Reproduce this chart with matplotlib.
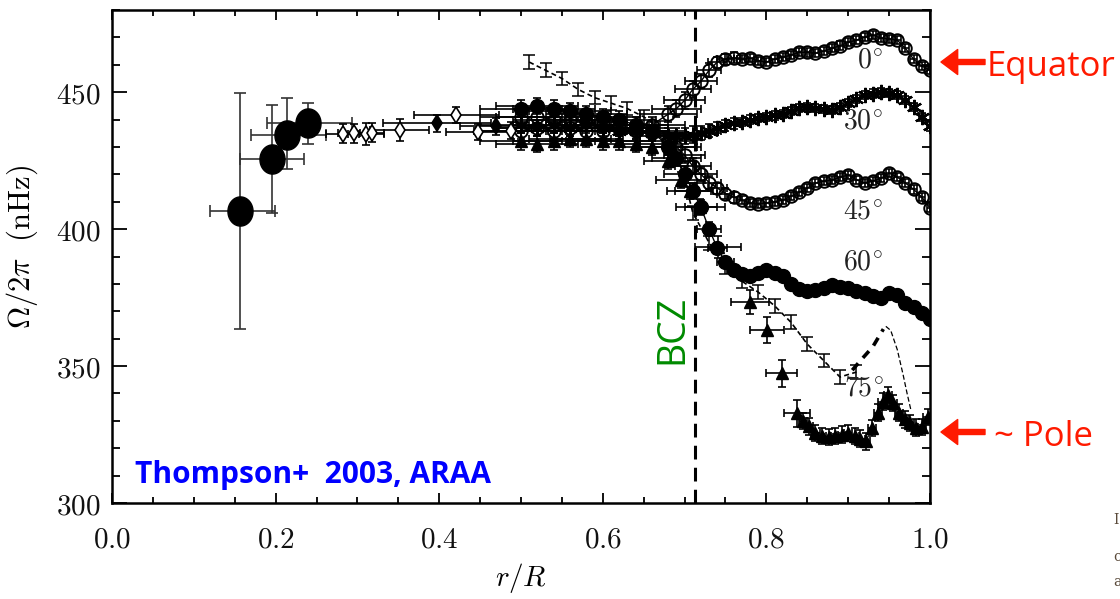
import numpy as np
import matplotlib
matplotlib.use('Agg')
import matplotlib.pyplot as plt
from matplotlib.path import Path
from matplotlib.ticker import MultipleLocator, FuncFormatter

plt.rcParams['mathtext.fontset'] = 'cm'
plt.rcParams['font.family'] = ['DejaVu Serif']

# ---------------- data ----------------
# deep-core points (large filled ellipses)
core_r = [0.156, 0.196, 0.214, 0.239]
core_om = [406.6, 425.5, 434.5, 438.7]
core_r_lo = [0.120, 0.156, 0.170, 0.189]
core_r_hi = [0.199, 0.235, 0.262, 0.293]
core_om_lo = [363.5, 405.8, 422.0, 431.0]
core_om_hi = [449.6, 445.3, 447.8, 446.0]

# radiative-interior points (small symbols)
rad_r = [0.282, 0.296, 0.310, 0.318, 0.352, 0.397, 0.421, 0.448, 0.470, 0.488]
rad_om = [434.9, 435.0, 434.6, 435.2, 436.1, 438.6, 441.6, 435.5, 437.5, 436.0]
rad_dr = [0.020, 0.020, 0.022, 0.015, 0.036, 0.066, 0.052, 0.040, 0.045, 0.045]
rad_dom = [3.5, 3.5, 4.0, 3.5, 4.0, 3.0, 3.0, 3.0, 3.0, 3.0]
rad_filled = [False, False, False, False, False, True, False, False, True, False]

# latitude cuts (shared radius grid)
lat_r = [0.50, 0.52, 0.54, 0.56, 0.58, 0.60, 0.62, 0.64, 0.66, 0.68,
         0.69, 0.70, 0.71, 0.72, 0.73, 0.74, 0.75, 0.76, 0.77, 0.78,
         0.79, 0.80, 0.81, 0.82, 0.83, 0.84, 0.85, 0.86, 0.87, 0.88,
         0.89, 0.90, 0.91, 0.92, 0.93, 0.94, 0.95, 0.96, 0.97, 0.98,
         0.99, 1.00]
lat00_om = [436, 437, 436, 437, 436, 436, 437, 437, 438, 442,
            444, 447, 451, 454, 458, 461, 462, 462.5, 462, 462.4,
            461.5, 461, 462, 462.8, 463.5, 464.6, 464.5, 464.2, 465, 466,
            467, 468.2, 469, 470, 470.8, 469.7, 469.5, 469, 466, 462,
            459.5, 458]
lat30_om = [438, 437, 438, 437, 438, 437, 436, 436, 435, 434,
            434, 434, 434.5, 435, 436, 437, 438, 438.7, 439, 440,
            440.5, 440.9, 441.5, 442, 443, 444.2, 444.5, 444.2, 443.8, 443.4,
            444.5, 446, 447.5, 448.9, 449.5, 450, 449.8, 448.9, 447, 444.5,
            441, 437.5]
lat45_om = [441, 441, 440, 440, 439, 438, 437, 436, 435, 432,
            430, 427, 423, 420, 417, 415, 413, 411.7, 410.5, 409.5,
            409.3, 409.5, 410, 410.6, 412, 413.5, 415, 416.8, 417.5, 417.9,
            419, 419.7, 418, 416.8, 417.5, 418.6, 420.4, 419, 416.8, 414.5,
            411.7, 407.7]
lat60_om = [444, 445, 444, 443, 442, 441, 440, 438, 436, 430,
            426, 420, 414, 408, 400, 393, 388, 385, 383.5, 383,
            384, 385, 384, 383, 380, 378, 377.5, 377.7, 378.5, 379.6,
            379, 378.5, 377.5, 376.6, 375.5, 374.8, 376.5, 376, 373, 371.5,
            369.5, 367]
lat_dr = [0.050, 0.050, 0.050, 0.050, 0.050, 0.045, 0.045, 0.040, 0.040, 0.035,
          0.030, 0.025, 0.022, 0.020, 0.015, 0.012, 0.010, 0.008, 0.006, 0.005,
          0.004, 0.004, 0.004, 0.004, 0.004, 0.004, 0.004, 0.004, 0.004, 0.004,
          0.004, 0.004, 0.004, 0.004, 0.004, 0.004, 0.004, 0.004, 0.004, 0.004,
          0.004, 0.004]
lat_dom = [3.0, 3.0, 3.0, 3.0, 3.0, 3.0, 3.0, 3.0, 3.0, 3.0,
           3.0, 3.0, 3.0, 2.5, 2.5, 2.0, 2.0, 2.0, 1.5, 1.5,
           1.5, 1.5, 1.5, 1.5, 1.5, 1.5, 1.5, 1.5, 1.5, 1.5,
           1.5, 1.5, 1.5, 1.5, 1.5, 1.5, 1.5, 1.5, 1.5, 1.5,
           1.5, 1.5]

# 75 degree cut (dashed, zig-zag error bars)
l75_r = [0.51, 0.53, 0.55, 0.57, 0.59, 0.61, 0.63, 0.65, 0.67, 0.69, 0.70,
         0.71, 0.73, 0.75, 0.77, 0.79, 0.81, 0.83, 0.85, 0.87, 0.89, 0.91]
l75_om = [461, 458, 455, 451, 448, 446, 444, 441, 437, 428, 418,
          406, 395, 386, 381, 377, 372, 366, 358, 352, 346, 347.8]
l75_dom = [2.5, 2.5, 2.5, 2.5, 2.5, 2.5, 2.5, 2.5, 2.5, 2.5, 2.5,
           2.5, 2.5, 2.5, 2.5, 2.5, 2.5, 2.5, 2.5, 2.5, 2.5, 2.5]
l75_ext_r = [0.905, 0.915, 0.930, 0.943]
l75_ext_om = [348.5, 352.0, 357.0, 363.5]
l75_tail_r = [0.946, 0.952, 0.960, 0.967, 0.972, 0.977]
l75_tail_om = [364.5, 363.0, 356.0, 347.0, 340.0, 333.5]

# near-polar points (filled triangles)
pole_r = [0.50, 0.52, 0.54, 0.56, 0.58, 0.60, 0.62, 0.64, 0.66, 0.68,
          0.695, 0.707, 0.719, 0.741, 0.780, 0.801, 0.819, 0.837, 0.845, 0.852,
          0.860, 0.868, 0.876, 0.884, 0.892, 0.900, 0.908, 0.915, 0.922, 0.929,
          0.936, 0.942, 0.949, 0.955, 0.962, 0.969, 0.976, 0.983, 0.990, 0.997]
pole_om = [432, 431, 432, 433, 433, 432, 432, 431, 430, 425,
           418, 414, 408, 393.4, 373.4, 363.1, 347.4, 332.8, 330.0, 328.0,
           325.5, 324.5, 324.0, 324.5, 325.0, 325.5, 324.5, 323.5, 322.5, 327.4,
           333.0, 337.0, 339.4, 336.5, 333.0, 330.5, 329.2, 327.5, 327.7, 331.4]
pole_dr = [0.050, 0.050, 0.050, 0.050, 0.045, 0.045, 0.040, 0.040, 0.035, 0.030,
           0.030, 0.028, 0.030, 0.028, 0.023, 0.021, 0.019, 0.016, 0.005, 0.005,
           0.005, 0.005, 0.005, 0.005, 0.005, 0.005, 0.005, 0.005, 0.005, 0.005,
           0.005, 0.005, 0.005, 0.005, 0.005, 0.005, 0.005, 0.005, 0.005, 0.005]
pole_dom = [3.0, 3.0, 3.0, 3.0, 3.0, 3.0, 3.0, 3.0, 3.0, 3.0,
            3.0, 3.0, 3.0, 4.0, 4.3, 4.7, 4.9, 4.9, 3.0, 3.0,
            3.0, 3.0, 3.0, 3.0, 3.0, 3.0, 3.0, 3.0, 3.0, 3.0,
            3.0, 3.0, 3.0, 3.0, 3.0, 3.0, 3.0, 3.0, 3.0, 3.0]

lat_labels = [r'$0^{\circ}$', r'$30^{\circ}$', r'$45^{\circ}$', r'$60^{\circ}$', r'$75^{\circ}$']
lat_label_r = [0.927, 0.918, 0.918, 0.918, 0.919]
lat_label_om = [461.7, 439.4, 406.6, 388.0, 342.0]

bcz_r = 0.713
x_ticks = [0.0, 0.2, 0.4, 0.6, 0.8, 1.0]
y_ticks = [300, 350, 400, 450]

# ---------------- figure ----------------
W, H = 1120, 599
fig = plt.figure(figsize=(W / 100, H / 100), dpi=100)
ax = fig.add_axes([112 / W, 1 - 503 / H, 818 / W, 493 / H])
ax.set_xlim(0.0, 1.0)
ax.set_ylim(300, 480)

k = 'black'
eb_kw = dict(ecolor=k, elinewidth=1.2, capsize=3, capthick=1.2)

# core ellipses
th = np.linspace(0, 2 * np.pi, 64)
ellipse = Path(np.column_stack([0.86 * np.cos(th), np.sin(th)]), closed=True)
core_xerr = [np.array(core_r) - np.array(core_r_lo), np.array(core_r_hi) - np.array(core_r)]
core_yerr = [np.array(core_om) - np.array(core_om_lo), np.array(core_om_hi) - np.array(core_om)]
ax.errorbar(core_r, core_om, xerr=core_xerr, yerr=core_yerr, fmt='none',
            ecolor='#333333', elinewidth=1.2, capsize=4, capthick=1.2, zorder=3)
ax.plot(core_r, core_om, ls='none', marker=ellipse, ms=21, color=k, zorder=4)

# radiative-interior points
for r, om, dr, dom, f in zip(rad_r, rad_om, rad_dr, rad_dom, rad_filled):
    ax.errorbar([r], [om], xerr=[dr], yerr=[dom], fmt='d', ms=8,
                mfc=k if f else 'white', mec=k, mew=1.2, zorder=3, **eb_kw)

# latitude cuts
ax.errorbar(lat_r, lat00_om, xerr=lat_dr, yerr=lat_dom, fmt='none', zorder=3, **eb_kw)
ax.plot(lat_r, lat00_om, marker='o', ms=9, mfc='none', mec=k, mew=1.4,
        color=k, ls='-', lw=1.0, zorder=3)
ax.errorbar(lat_r, lat30_om, xerr=lat_dr, yerr=lat_dom, fmt='none', zorder=3, **eb_kw)
ax.plot(lat_r, lat30_om, marker=(6, 2, 0), ms=11, mec=k, mew=1.6,
        color=k, ls='-', lw=1.0, zorder=3)
ax.errorbar(lat_r, lat45_om, xerr=lat_dr, yerr=lat_dom, fmt='none', zorder=3, **eb_kw)
ax.plot(lat_r, lat45_om, marker='o', ms=9, mfc='none', mec=k, mew=1.4,
        color=k, ls='-', lw=1.0, zorder=3)
ax.errorbar(lat_r, lat60_om, xerr=lat_dr, yerr=lat_dom, fmt='none', zorder=3, **eb_kw)
ax.plot(lat_r, lat60_om, marker='o', ms=10, mfc=k, mec=k,
        color=k, ls='-', lw=1.0, zorder=3)

# 75 degree dashed curve
ax.errorbar(l75_r, l75_om, yerr=l75_dom, fmt='none', ecolor=k, elinewidth=1.1,
            capsize=4, capthick=1.1, zorder=3)
ax.plot(l75_r, l75_om, color=k, ls=(0, (3, 2)), lw=1.2, zorder=3)
ax.plot(l75_ext_r, l75_ext_om, color=k, ls=(0, (2.5, 2)), lw=2.6, zorder=3)
ax.plot(l75_tail_r, l75_tail_om, color=k, ls=(0, (4, 2)), lw=0.9, zorder=3)

# polar triangles
ax.errorbar(pole_r, pole_om, xerr=pole_dr, yerr=pole_dom, fmt='^', ms=9,
            mfc=k, mec=k, color=k, ls='none', zorder=3, **eb_kw)

# latitude labels
for t, r, om in zip(lat_labels, lat_label_r, lat_label_om):
    ax.text(r, om, t, fontsize=20, ha='center', va='center', color='#222222', zorder=5)

# base of convection zone
ax.axvline(bcz_r, color=k, lw=2.2, ls=(0, (4.5, 2.7)), zorder=2)
ax.text(0.6846, 363.5, 'BCZ', rotation=90, ha='center', va='center',
        fontsize=27, color='#008A00', family=['Open Sans', 'DejaVu Sans'])
ax.text(0.028, 307.3, 'Thompson+  2003, ARAA', ha='left', va='baseline',
        fontsize=21.5, fontweight='bold', color='#0000FF',
        family=['Open Sans', 'DejaVu Sans'])

# axes styling
ax.set_xticks(x_ticks)
ax.xaxis.set_major_formatter(FuncFormatter(lambda v, p: r'$%.1f$' % v))
ax.set_yticks(y_ticks)
ax.yaxis.set_major_formatter(FuncFormatter(lambda v, p: r'$%d$' % v))
ax.xaxis.set_minor_locator(MultipleLocator(0.05))
ax.yaxis.set_minor_locator(MultipleLocator(10))
ax.tick_params(which='both', direction='in', top=True, right=True, width=1.4,
               labelsize=21, colors='#111111')
ax.tick_params(axis='y', which='major', length=11, pad=8)
ax.tick_params(axis='y', which='minor', length=6)
ax.tick_params(axis='x', which='major', length=7, pad=16)
ax.tick_params(axis='x', which='minor', length=4.5)
for s in ax.spines.values():
    s.set_linewidth(1.8)
ax.set_xlabel(r'$r/R$', fontsize=21)
ax.set_ylabel(r'$\Omega/2\pi\ \ (\mathrm{nHz})$', fontsize=22)
ax.xaxis.set_label_coords(0.5, -0.118)
ax.yaxis.set_label_coords(-0.088, 0.52)

# outside annotations
red = '#FF1A00'
for ypx in (62, 432):
    ax.annotate('', xy=(941 / W, 1 - ypx / H), xytext=(985 / W, 1 - ypx / H),
                xycoords='figure fraction', textcoords='figure fraction',
                arrowprops=dict(facecolor=red, edgecolor=red, width=3.6,
                                headwidth=18, headlength=12, shrink=0))
fig.text(987 / W, 1 - 76 / H, 'Equator', fontsize=25, color=red, ha='left',
         va='baseline', family=['Open Sans', 'DejaVu Sans'])
fig.text(994 / W, 1 - 446 / H, '~ Pole', fontsize=25, color=red, ha='left',
         va='baseline', family=['Open Sans', 'DejaVu Sans'])

# fragments of neighbouring text at the right edge
for ypx, ch in ((520, 'I'), (557, 'c'), (582, 'a')):
    fig.text(1113 / W, 1 - ypx / H, ch, fontsize=10, color='#5a4a3a',
             ha='left', va='center')

fig.savefig('out.png', dpi=100)
